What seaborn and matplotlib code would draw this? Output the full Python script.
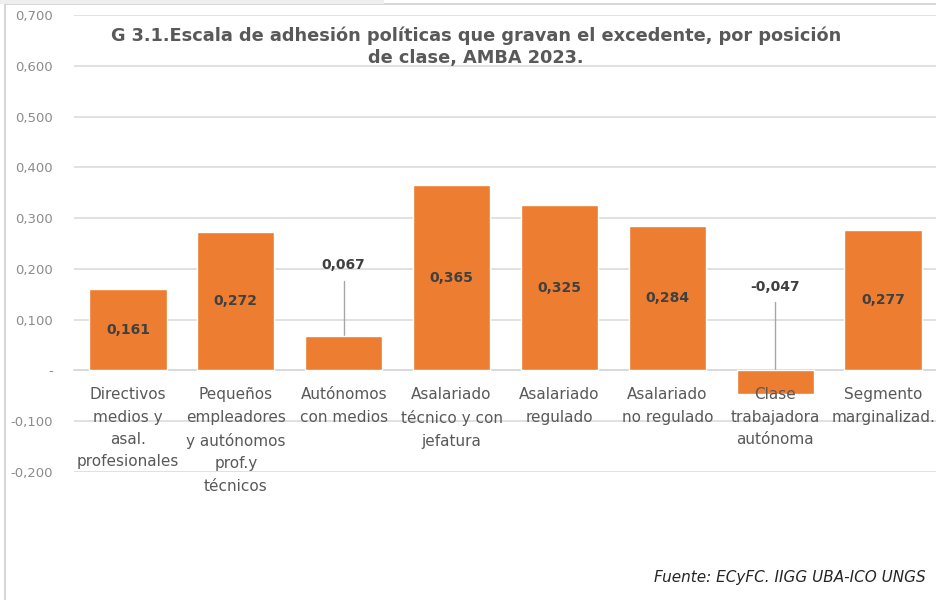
import matplotlib
matplotlib.use("Agg")
import matplotlib.pyplot as plt
from matplotlib.patches import Rectangle
import seaborn as sns
import pandas as pd

# --- data -----------------------------------------------------------------
categories = [
    "Directivos\nmedios y\nasal.\nprofesionales",
    "Pequeños\nempleadores\ny autónomos\nprof.y\ntécnicos",
    "Autónomos\ncon medios",
    "Asalariado\ntécnico y con\njefatura",
    "Asalariado\nregulado",
    "Asalariado\nno regulado",
    "Clase\ntrabajadora\nautónoma",
    "Segmento\nmarginalizad.",
]
values = [0.161, 0.272, 0.067, 0.365, 0.325, 0.284, -0.047, 0.277]
value_labels = ["0,161", "0,272", "0,067", "0,365", "0,325", "0,284", "-0,047", "0,277"]

y_ticks = [-0.2, -0.1, 0.0, 0.1, 0.2, 0.3, 0.4, 0.5, 0.6, 0.7]
y_tick_labels = ["-0,200", "-0,100", "-", "0,100", "0,200", "0,300",
                 "0,400", "0,500", "0,600", "0,700"]

title = ("G 3.1.Escala de adhesión políticas que gravan el excedente, por posición\n"
         "de clase, AMBA 2023.")
source = "Fuente: ECyFC. IIGG UBA-ICO UNGS"

# --- style ----------------------------------------------------------------
sns.set_theme(style="white")
plt.rcParams["font.family"] = ["DejaVu Sans"]

BAR = "#ED7D31"
GRID = "#d9d9d9"
TEXT = "#595959"
LABEL = "#404040"

df = pd.DataFrame({"categoria": categories, "valor": values})

fig = plt.figure(figsize=(9.37, 6.00), dpi=100)
fig.patch.set_facecolor("white")
ax = fig.add_axes([0.079, 0.2133, 0.921, 0.7617])

sns.barplot(data=df, x="categoria", y="valor", color=BAR, saturation=1,
            width=0.715, ax=ax, zorder=3)

ax.set_ylim(-0.2, 0.7)
ax.set_xlim(-0.5, len(categories) - 0.5)
ax.set_yticks(y_ticks)
ax.set_yticklabels(y_tick_labels, fontsize=9.5, color="#8c8c8c")
ax.yaxis.grid(True, color=GRID, linewidth=1.1, zorder=0)
ax.set_axisbelow(True)
ax.set_xlabel("")
ax.set_ylabel("")

for side in ["top", "right", "left"]:
    ax.spines[side].set_visible(False)
ax.spines["bottom"].set_position(("data", 0))
ax.spines["bottom"].set_color(GRID)
ax.spines["bottom"].set_linewidth(1.1)
ax.spines["bottom"].set_zorder(1)
ax.tick_params(axis="x", length=0, pad=12, labelsize=11, labelcolor=TEXT)
ax.tick_params(axis="y", length=0, pad=15)
for lbl in ax.get_xticklabels():
    lbl.set_linespacing(1.62)
# category names sit on top of the bars (one bar reaches below zero)
ax.xaxis.set_zorder(4)

# value labels: centred inside tall bars, above with a leader line for short ones
for i, (v, txt) in enumerate(zip(values, value_labels)):
    if abs(v) >= 0.1:
        ax.text(i, v / 2, txt, ha="center", va="center", fontsize=10,
                fontweight="bold", color=LABEL, zorder=6)
    else:
        label_y = max(v, 0) + (0.14 if v > 0 else 0.165)
        ax.text(i, label_y, txt, ha="center", va="center", fontsize=10,
                fontweight="bold", color=LABEL, zorder=6)
        ax.plot([i, i], [label_y - 0.03, v / 2], color="#a6a6a6",
                linewidth=1, zorder=2)

# title and source
fig.text(0.508, 0.922, title, ha="center", va="center", fontsize=12.8,
         fontweight="bold", color=TEXT, linespacing=1.25)
fig.text(0.988, 0.037, source, ha="right", va="center", fontsize=11,
         style="italic", color="#262626")

# chart frame and the strip of the sheet above it
fig.add_artist(Rectangle((0.005, -0.01), 1.1, 1.003, transform=fig.transFigure,
                         fill=False, edgecolor="#d0d0d0", linewidth=1.2))
fig.add_artist(Rectangle((0, 0.993), 0.41, 0.01, transform=fig.transFigure,
                         facecolor="#efefef", edgecolor="none"))

fig.savefig("out.png", dpi=100)
